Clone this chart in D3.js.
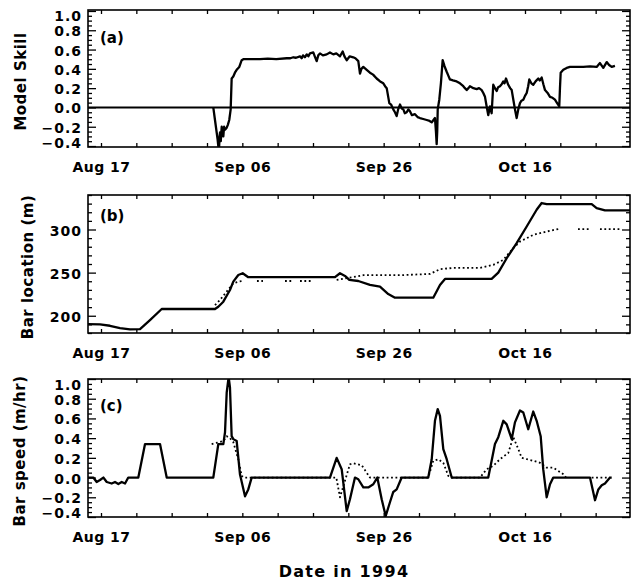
<!DOCTYPE html>
<html>
<head>
<meta charset="utf-8">
<script src="https://cdn.jsdelivr.net/npm/d3@7"></script>
<style>
body { margin: 0; background: #fff; }
text { font-family: "DejaVu Sans", sans-serif; font-weight: bold; fill: #000; }
</style>
</head>
<body>
<div id="chart"></div>
<script>
// --- data (day of year 1994, value) ---
const tickDays = [229, 249, 269, 289];
const tickLabels = ["Aug 17", "Sep 06", "Sep 26", "Oct 16"];

const skillTicks = [-0.4, -0.2, 0.0, 0.2, 0.4, 0.6, 0.8, 1.0];
const locationTicks = [200, 250, 300];
const speedTicks = [-0.4, -0.2, 0.0, 0.2, 0.4, 0.6, 0.8, 1.0];

// (a) model skill
const skill = [[244.89,0.00],[245.13,-0.13],[245.37,-0.26],[245.50,-0.33],[245.60,-0.40],[245.70,-0.44],[245.78,-0.30],[245.84,-0.26],[245.95,-0.35],[246.08,-0.20],[246.20,-0.27],[246.31,-0.30],[246.42,-0.20],[246.55,-0.23],[246.79,-0.21],[246.95,-0.18],[247.15,-0.13],[247.35,-0.02],[247.49,0.30],[247.72,0.32],[247.95,0.36],[248.20,0.39],[248.57,0.42],[248.91,0.49],[249.14,0.50],[250.5,0.50],[251.5,0.50],[252.6,0.505],[253.8,0.50],[255.28,0.51],[255.8,0.51],[256.21,0.52],[256.6,0.515],[257.16,0.53],[257.40,0.51],[257.58,0.54],[257.85,0.52],[258.11,0.55],[258.35,0.53],[258.57,0.56],[259.04,0.57],[259.25,0.53],[259.52,0.48],[259.75,0.54],[259.99,0.56],[260.4,0.54],[260.94,0.55],[261.4,0.57],[261.87,0.55],[262.3,0.56],[262.82,0.53],[263.20,0.58],[263.45,0.53],[263.77,0.49],[264.2,0.53],[264.70,0.52],[265.0,0.51],[265.41,0.48],[265.65,0.35],[265.85,0.40],[266.12,0.42],[266.6,0.39],[267.06,0.36],[267.5,0.34],[268.01,0.30],[268.5,0.27],[268.95,0.25],[269.20,0.22],[269.43,0.20],[269.80,0.045],[270.05,0.03],[270.36,-0.02],[270.6,-0.05],[270.84,-0.09],[271.05,-0.02],[271.31,0.03],[271.55,-0.01],[271.78,-0.02],[272.0,-0.06],[272.26,-0.05],[272.5,-0.02],[272.72,-0.04],[273.0,-0.08],[273.43,-0.07],[273.8,-0.10],[274.14,-0.11],[274.6,-0.12],[275.09,-0.13],[275.5,-0.14],[275.80,-0.155],[276.05,-0.13],[276.26,-0.11],[276.40,-0.25],[276.50,-0.38],[276.58,-0.25],[276.65,-0.02],[276.87,0.08],[277.10,0.25],[277.35,0.49],[277.6,0.43],[277.92,0.37],[278.15,0.33],[278.38,0.29],[278.8,0.28],[279.33,0.27],[279.8,0.25],[280.27,0.22],[280.5,0.20],[280.75,0.18],[281.0,0.20],[281.21,0.22],[281.7,0.20],[282.16,0.19],[282.5,0.20],[282.87,0.18],[283.1,0.15],[283.34,0.11],[283.55,0.02],[283.80,-0.08],[284.04,0.01],[284.28,-0.06],[284.51,0.235],[284.75,0.20],[284.99,0.17],[285.2,0.21],[285.46,0.22],[285.7,0.24],[285.93,0.27],[286.1,0.25],[286.31,0.30],[286.63,0.235],[286.9,0.20],[287.12,0.18],[287.35,0.08],[287.58,-0.02],[287.82,-0.11],[288.05,-0.02],[288.29,0.045],[288.5,0.07],[288.76,0.08],[289.0,0.12],[289.24,0.15],[289.45,0.22],[289.61,0.29],[289.9,0.25],[290.17,0.235],[290.5,0.27],[290.88,0.30],[291.1,0.28],[291.36,0.31],[291.6,0.24],[291.83,0.18],[292.2,0.15],[292.54,0.11],[292.9,0.10],[293.24,0.08],[293.5,0.05],[293.85,0.01],[293.95,0.20],[294.05,0.36],[294.42,0.39],[294.9,0.41],[295.37,0.42],[296.3,0.42],[297.25,0.42],[298.2,0.425],[299.14,0.42],[299.61,0.46],[300.08,0.41],[300.56,0.47],[300.9,0.44],[301.27,0.42],[301.73,0.43]];

// (b) bar location, observed (solid) and model (dotted, null = gap)
const locObs = [[227.16,190.3],[228.86,190],[230.27,188.4],[231.69,185.7],[233.10,184.2],[234.52,184.5],[235.93,195],[237.59,207.8],[245.13,207.8],[245.60,210.5],[246.31,216.3],[247.25,229.9],[247.72,239.5],[248.43,247.3],[249.05,249.3],[249.84,244.7],[262.11,244.7],[262.82,249.3],[263.53,246.2],[264.14,241.5],[265.41,240.3],[267.06,235.7],[268.48,233.7],[269.65,225.2],[270.60,220.9],[276.02,220.9],[276.97,235.7],[277.68,242.7],[284.28,242.7],[285.22,250],[286.41,266.7],[287.82,284.2],[289.24,303.5],[290.65,322.9],[291.36,330.7],[292.07,329.5],[298.44,329.5],[299.14,324.9],[300.32,322.1],[303.86,322.1]];
const locModel = [[245.13,212.4],[245.84,218.3],[246.79,228],[247.72,237.7],[248.43,239.5],[249.09,240.3],[249.2,null],[251.07,240.3],[251.92,240.3],[252.0,null],[255.04,240.3],[256.03,240.3],[256.1,null],[257.16,240.3],[259.0,240.3],[259.1,null],[262.35,241.5],[263.77,243.5],[266.12,247],[271.31,247],[275.55,248.5],[276.97,254],[278.85,255.5],[282.63,255.5],[284.51,259],[285.93,264.8],[287.34,278.4],[288.29,286],[290.17,293.8],[292.07,297.7],[293.71,300.5],[293.8,null],[296.50,300.5],[298.19,300.5],[298.3,null],[299.61,300.5],[302.44,300.5]];

// (c) bar speed, observed (solid) and model (dotted)
const speedObs = [[227.16,0],[227.91,0],[228.39,-0.045],[228.86,-0.025],[229.33,0],[229.81,-0.045],[230.51,-0.06],[230.98,-0.045],[231.45,-0.065],[231.93,-0.045],[232.40,-0.06],[232.86,0],[234.28,0],[235.23,0.34],[237.35,0.34],[238.30,0],[244.89,0],[245.60,0.34],[246.31,0.34],[246.55,0.46],[246.79,0.865],[247.01,0.99],[247.10,1.0],[247.25,0.915],[247.49,0.42],[247.72,0.39],[248.20,0.37],[248.67,0.03],[249.38,-0.19],[249.84,-0.12],[250.32,0],[261.40,0],[262.35,0.20],[263.06,0.085],[263.77,-0.34],[264.23,-0.22],[264.94,0],[265.41,-0.017],[266.12,-0.10],[266.82,-0.10],[267.53,-0.068],[268.10,0],[268.72,-0.22],[269.29,-0.39],[269.89,-0.25],[270.36,-0.146],[270.84,-0.12],[271.55,0],[275.31,0],[275.80,0.186],[276.26,0.576],[276.65,0.695],[276.97,0.627],[277.44,0.288],[277.92,0.186],[278.63,0],[283.80,0],[284.28,0.17],[284.75,0.34],[285.22,0.41],[285.93,0.576],[286.41,0.54],[287.12,0.39],[287.58,0.56],[288.29,0.68],[288.76,0.66],[289.46,0.49],[290.17,0.67],[290.65,0.576],[291.22,0.42],[291.58,0.085],[292.07,-0.20],[292.54,-0.068],[293.00,0],[298.20,0],[298.91,-0.23],[299.38,-0.12],[299.86,-0.078],[300.32,-0.06],[301.03,0],[301.27,0]];
const speedModel = [[244.66,0.34],[246.31,0.37],[246.79,0.42],[247.25,0.40],[247.72,0.36],[248.43,0.186],[248.91,0.017],[249.24,0],[262.3,0],[262.82,-0.2],[264.23,0.135],[264.70,0.145],[265.89,0.125],[267.06,0],[275.31,0],[276.02,0.17],[276.73,0.186],[277.44,0.15],[278.15,0.017],[278.63,0],[282.63,0],[283.58,0.085],[284.51,0.12],[285.46,0.186],[286.63,0.25],[287.34,0.41],[288.05,0.29],[288.53,0.2],[290.17,0.17],[291.12,0.15],[292.07,0.10],[293.00,0.10],[293.71,0.068],[294.42,0.034],[294.80,0],[294.9,null],[298.44,0],[301.03,0]];

// --- layout ---
const W = 637, H = 581, left = 88, right = 630;
const svg = d3.select("#chart").append("svg").attr("width", W).attr("height", H);

const toDate = doy => new Date(Date.UTC(1994, 0, 1) + (doy - 1) * 864e5);
const x = d3.scaleUtc().domain([toDate(227.16), toDate(303.86)]).range([left, right]);
const xMinor = d3.range(229, 304, 5).map(toDate);

const fmt = d => (d < 0 ? "\u2212" : "") + Math.abs(d).toFixed(1);

const panels = [
  { top: 10, bottom: 147, domain: [-0.41, 1.01], ticks: skillTicks, minor: d3.range(-0.4, 1.001, 0.05), fmt: fmt,
    tag: "(a)", tagY: 43, title: "Model Skill", titleX: 26, zero: true, lines: [[skill, false]] },
  { top: 195, bottom: 333, domain: [180, 340], ticks: locationTicks, minor: d3.range(180, 341, 10), fmt: d => d,
    tag: "(b)", tagY: 221, title: "Bar location (m)", titleX: 33, zero: false, lines: [[locModel, true], [locObs, false]] },
  { top: 379, bottom: 517, domain: [-0.4, 1.0], ticks: speedTicks, minor: d3.range(-0.4, 1.001, 0.05), fmt: fmt,
    tag: "(c)", tagY: 411, title: "Bar speed (m/hr)", titleX: 25, zero: false, lines: [[speedModel, true], [speedObs, false]] }
];

panels.forEach((p, i) => {
  const y = d3.scaleLinear().domain(p.domain).range([p.bottom, p.top]);
  const g = svg.append("g");

  g.append("clipPath").attr("id", "clip" + i)
    .append("rect").attr("x", left).attr("y", p.top).attr("width", right - left).attr("height", p.bottom - p.top);

  // x ticks (inward, top and bottom)
  const xb = g.append("g").attr("transform", `translate(0,${p.bottom})`)
    .call(d3.axisBottom(x).tickValues(xMinor).tickSize(-4).tickPadding(15)
      .tickFormat(d => {
        const k = tickDays.findIndex(t => +toDate(t) === +d);
        return k >= 0 ? tickLabels[k] : "";
      }));
  xb.selectAll("text").style("font-size", "14px").style("letter-spacing", "0.5px");
  g.append("g").attr("transform", `translate(0,${p.top})`)
    .call(d3.axisTop(x).tickValues(xMinor).tickSize(-4).tickFormat(""));

  // y ticks, major and minor, both sides
  const minors = p.minor.filter(v => !p.ticks.some(t => Math.abs(t - v) < 1e-6));
  [[d3.axisLeft, left], [d3.axisRight, right]].forEach(([ax, xp]) => {
    g.append("g").attr("transform", `translate(${xp},0)`)
      .call(ax(y).tickValues(p.ticks).tickSize(-8).tickFormat(""));
    g.append("g").attr("transform", `translate(${xp},0)`)
      .call(ax(y).tickValues(minors).tickSize(-4).tickFormat(""));
  });

  g.selectAll(".domain").remove();
  g.selectAll(".tick line").attr("stroke", "#000").attr("stroke-width", 1.3);

  // y tick labels
  g.selectAll(".ylab").data(p.ticks).enter().append("text")
    .attr("x", 82)
    .attr("y", d => Math.min(Math.max(y(d) + 6, p.top + 11), p.bottom + 1))
    .attr("text-anchor", "end")
    .style("font-size", "14px").style("letter-spacing", "1px")
    .text(p.fmt);

  // frame
  g.append("rect").attr("x", left).attr("y", p.top).attr("width", right - left).attr("height", p.bottom - p.top)
    .attr("fill", "none").attr("stroke", "#000").attr("stroke-width", 1.6);

  if (p.zero) {
    g.append("line").attr("x1", left).attr("x2", right).attr("y1", y(0)).attr("y2", y(0))
      .attr("stroke", "#000").attr("stroke-width", 2);
  }

  const line = d3.line()
    .defined(d => d[1] !== null)
    .x(d => x(toDate(d[0])))
    .y(d => y(d[1]));

  p.lines.forEach(([data, dotted]) => {
    g.append("path").datum(data)
      .attr("clip-path", `url(#clip${i})`)
      .attr("d", line)
      .attr("fill", "none")
      .attr("stroke", "#000")
      .attr("stroke-width", dotted ? 1.8 : 2.3)
      .attr("stroke-linejoin", "round")
      .attr("stroke-dasharray", dotted ? "1.8,2.6" : null);
  });

  g.append("text").attr("x", 100).attr("y", p.tagY).style("font-size", "15px").text(p.tag);

  g.append("text")
    .attr("transform", `translate(${p.titleX},${(p.top + p.bottom) / 2 + 3}) rotate(-90)`)
    .attr("text-anchor", "middle")
    .style("font-size", "15px").style("letter-spacing", "0.5px")
    .text(p.title);
});

svg.append("text").attr("x", 344).attr("y", 577).attr("text-anchor", "middle")
  .style("font-size", "16px").style("letter-spacing", "1.3px")
  .text("Date in 1994");
</script>
</body>
</html>
